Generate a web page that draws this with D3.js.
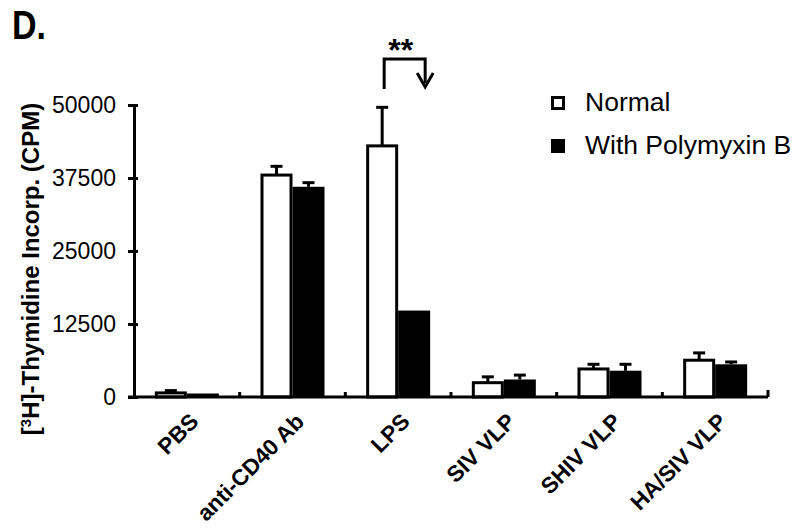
<!DOCTYPE html>
<html>
<head>
<meta charset="utf-8">
<script src="https://cdn.jsdelivr.net/npm/d3@7"></script>
<style>
  body { margin: 0; background: #fff; }
  text { font-family: "Liberation Sans", Arial, sans-serif; fill: #000; }
</style>
</head>
<body>
<svg id="chart" width="800" height="530"></svg>
<script>
// ---------- data

const CATEGORIES = ["PBS", "anti-CD40 Ab", "LPS", "SIV VLP", "SHIV VLP", "HA/SIV VLP"];
const NORMAL_VALUES = [700, 38000, 43000, 2450, 4800, 6300];
const NORMAL_ERRORS = [400, 1500, 6600, 1000, 800, 1250];
const POLY_VALUES = [600, 36000, 14800, 3000, 4500, 5600];
const POLY_ERRORS = [0, 700, 0, 750, 1100, 400];
const Y_TICKS = [0, 12500, 25000, 37500, 50000];
const SERIES_NAMES = ["Normal", "With Polymyxin B"];

// ----------

const svg = d3.select("#chart");
const LEFT = 134, RIGHT = 768, TOP = 105, BOTTOM = 397;
const BAR_W = 32;
const STROKE = 3;

const x = d3.scaleBand().domain(CATEGORIES).range([LEFT, RIGHT]).padding(0);
const y = d3.scaleLinear().domain([0, 50000]).range([BOTTOM, TOP]);

const rows = CATEGORIES.map((c, i) => [
  { cat: c, series: 0, value: NORMAL_VALUES[i], err: NORMAL_ERRORS[i] },
  { cat: c, series: 1, value: POLY_VALUES[i], err: POLY_ERRORS[i] },
]).flat();

function barX(d) {
  const center = x(d.cat) + x.bandwidth() / 2;
  return d.series === 0 ? center - BAR_W : center;
}

// error bars (drawn first so the bar outline covers the join)
const errs = svg.append("g").selectAll("g").data(rows.filter(d => d.err > 0)).join("g");
errs.append("line")
  .attr("x1", d => barX(d) + BAR_W / 2).attr("x2", d => barX(d) + BAR_W / 2)
  .attr("y1", d => y(d.value)).attr("y2", d => y(d.value + d.err))
  .attr("stroke", "#000").attr("stroke-width", STROKE);
errs.append("line")
  .attr("x1", d => barX(d) + BAR_W / 2 - 6).attr("x2", d => barX(d) + BAR_W / 2 + 6)
  .attr("y1", d => y(d.value + d.err)).attr("y2", d => y(d.value + d.err))
  .attr("stroke", "#000").attr("stroke-width", STROKE);

// bars
svg.append("g").selectAll("rect").data(rows).join("rect")
  .attr("x", d => barX(d) + (d.series === 0 ? STROKE / 2 : 0))
  .attr("y", d => y(d.value))
  .attr("width", d => BAR_W - (d.series === 0 ? STROKE : 0))
  .attr("height", d => BOTTOM - y(d.value))
  .attr("fill", d => d.series === 0 ? "#fff" : "#000")
  .attr("stroke", d => d.series === 0 ? "#000" : "none")
  .attr("stroke-width", STROKE);

// y axis
const yAxis = svg.append("g")
  .attr("transform", `translate(${LEFT},0)`)
  .call(d3.axisLeft(y).tickValues(Y_TICKS).tickFormat(d3.format("d")).tickSize(6).tickSizeOuter(0).tickPadding(12));
yAxis.select(".domain").attr("stroke-width", STROKE);
yAxis.selectAll(".tick line").attr("x2", 4).attr("x1", -6).attr("stroke-width", STROKE);
yAxis.selectAll(".tick text")
  .style("font-family", "Liberation Sans, Arial, sans-serif")
  .style("font-size", "23px").attr("x", -18);

// x axis: plain line with short inward ticks at category boundaries
const xAxis = svg.append("g").attr("transform", `translate(0,${BOTTOM})`)
  .call(d3.axisBottom(x).tickSize(0).tickFormat(""));
xAxis.select(".domain").attr("stroke-width", STROKE).attr("d", `M${LEFT - 6},0H${RIGHT}`);
svg.append("g").selectAll("line").data(CATEGORIES).join("line")
  .attr("x1", d => x(d) + x.step()).attr("x2", d => x(d) + x.step())
  .attr("y1", BOTTOM).attr("y2", (d, i) => i === CATEGORIES.length - 1 ? BOTTOM - 7 : BOTTOM - 5)
  .attr("stroke", "#000").attr("stroke-width", STROKE);

// category labels, rotated
svg.append("g").selectAll("text").data(CATEGORIES).join("text")
  .attr("transform", d => `translate(${x(d) + x.bandwidth() / 2 + 13},${BOTTOM + 26}) rotate(-45)`)
  .attr("text-anchor", "end")
  .style("font-weight", "bold").style("font-size", "22.5px")
  .text(d => d);

// y label
const yLabel = svg.append("text")
  .attr("transform", "translate(39,269) rotate(-90)")
  .attr("text-anchor", "middle")
  .style("font-weight", "bold").style("font-size", "24px");
yLabel.append("tspan").text("[");
yLabel.append("tspan").attr("baseline-shift", "super").style("font-size", "15px").text("3");
yLabel.append("tspan").text("H]-Thymidine Incorp. (CPM)");

// panel letter (the original is stretched vertically)
svg.append("text").attr("transform", "translate(12,39) scale(1,1.2)")
  .style("font-weight", "bold").style("font-size", "34px").text("D.");

// legend
const legend = svg.append("g").selectAll("g").data(SERIES_NAMES).join("g")
  .attr("transform", (d, i) => `translate(551,${96 + i * 43})`);
legend.append("rect")
  .attr("x", (d, i) => i === 0 ? 1.5 : 0).attr("y", (d, i) => i === 0 ? 1.5 : 0)
  .attr("width", (d, i) => i === 0 ? 11 : 14).attr("height", (d, i) => i === 0 ? 11 : 14)
  .attr("fill", (d, i) => i === 0 ? "#fff" : "#000")
  .attr("stroke", (d, i) => i === 0 ? "#000" : "none").attr("stroke-width", STROKE);
legend.append("text").attr("x", 34).attr("y", 15)
  .style("font-size", "26.5px").text(d => d);

// significance bracket over LPS
const lpsCenter = x("LPS") + x.bandwidth() / 2;
const bx1 = lpsCenter - 14, bx2 = lpsCenter + 27, bTop = 59, bLeftBottom = 89, bRightBottom = 87;
svg.append("path")
  .attr("d", `M${bx1},${bLeftBottom}V${bTop}H${bx2}V${bRightBottom - 4}`)
  .attr("fill", "none").attr("stroke", "#000").attr("stroke-width", STROKE);
svg.append("path")
  .attr("d", `M${bx2 - 8},${bRightBottom - 14}L${bx2},${bRightBottom}L${bx2 + 8},${bRightBottom - 14}`)
  .attr("fill", "none").attr("stroke", "#000").attr("stroke-width", STROKE);
svg.append("text").attr("x", (bx1 + bx2) / 2 - 4).attr("y", 61)
  .attr("text-anchor", "middle")
  .style("font-weight", "bold").style("font-size", "32px").text("**");
</script>
</body>
</html>
